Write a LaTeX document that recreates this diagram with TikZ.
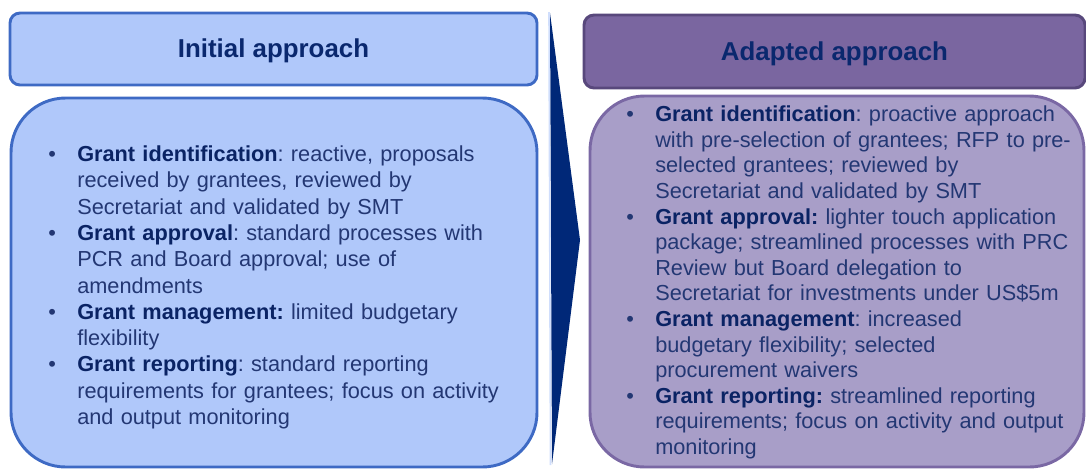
\documentclass[tikz,border=0pt]{standalone}
\usepackage{fontspec}
\setmainfont{Liberation Sans}
\usepackage{tikz}
\usetikzlibrary{positioning}
\definecolor{initfill}{RGB}{176,200,250}
\definecolor{initline}{RGB}{62,106,196}
\definecolor{adapthead}{RGB}{122,102,160}
\definecolor{adaptheadline}{RGB}{88,72,124}
\definecolor{adaptfill}{RGB}{168,158,200}
\definecolor{adaptline}{RGB}{122,104,164}
\definecolor{navy}{RGB}{0,40,120}
\definecolor{headtxt}{RGB}{10,40,110}
\definecolor{boldtxt}{RGB}{10,35,100}
\definecolor{bodytxt}{RGB}{35,55,115}
\frenchspacing
\setlength{\parindent}{0pt}
\tikzset{
    headbox/.style={rectangle, rounded corners=7.5pt, line width=2.2pt, text=headtxt,
        text height=17pt, text depth=4pt,
        font=\fontsize{19.4pt}{23pt}\selectfont\bfseries},
    bodybox/.style={rectangle, rounded corners=41pt, line width=2.2pt},
    bullets/.style={anchor=base west, inner sep=0pt, text width=375pt, text=bodytxt},
    chevron/.style={fill=navy, draw=none},
    chevglow/.style={draw=initfill!60!white, line width=1.2pt}
}
\newcommand{\gitem}[2]{\hangindent=21.75pt\hangafter=1\noindent
    \makebox[21.75pt][l]{\textbullet}{\bfseries\color{boldtxt}#1}#2}

\begin{document}
\begin{tikzpicture}[x=0.75pt, y=-0.75pt]
    \useasboundingbox (0,0) rectangle (1086,469);
    % left column
    \node[headbox, draw=initline, fill=initfill, minimum width=395.25pt, minimum height=54pt]
        (initHead) at (273.5,49) {Initial approach};
    \node[bodybox, draw=initline, fill=initfill, minimum width=394.5pt, minimum height=276.75pt]
        (initBody) at (274,282.5) {};
    \node[bullets, font=\fontsize{16.3pt}{19.7pt}\selectfont] (initList) at (48,161.7) {%
        \gitem{Grant identification}{: reactive, proposals\newline
            received by grantees, reviewed by\newline
            Secretariat and validated by SMT}\par
        \gitem{Grant approval}{: standard processes with\newline
            PCR and Board approval; use of\newline
            amendments}\par
        \gitem{Grant management:}{ limited budgetary\newline
            flexibility}\par
        \gitem{Grant reporting}{: standard reporting\newline
            requirements for grantees; focus on activity\newline
            and output monitoring}\par};

    % chevron between columns
    \fill[chevron] (550,13) -- (580,240) -- (552,464) -- cycle;
    \draw[chevglow] (549,12) -- (550.5,465);

    % right column
    \node[headbox, draw=adaptheadline, fill=adapthead, minimum width=375.75pt, minimum height=54.75pt]
        (adaptHead) at (834.5,51.5) {Adapted approach};
    \node[bodybox, draw=adaptline, fill=adaptfill, minimum width=370.5pt, minimum height=278.25pt]
        (adaptBody) at (837,281.5) {};
    \node[bullets, font=\fontsize{16.3pt}{19.2pt}\selectfont] (adaptList) at (626,121.7) {%
        \gitem{Grant identification}{: proactive approach\newline
            with pre-selection of grantees; RFP to pre-\newline
            selected grantees; reviewed by\newline
            Secretariat and validated by SMT}\par
        \gitem{Grant approval:}{ lighter touch application\newline
            package; streamlined processes with PRC\newline
            Review but Board delegation to\newline
            Secretariat for investments under US\$5m}\par
        \gitem{Grant management}{: increased\newline
            budgetary flexibility; selected\newline
            procurement waivers}\par
        \gitem{Grant reporting:}{ streamlined reporting\newline
            requirements; focus on activity and output\newline
            monitoring}\par};
\end{tikzpicture}
\end{document}
